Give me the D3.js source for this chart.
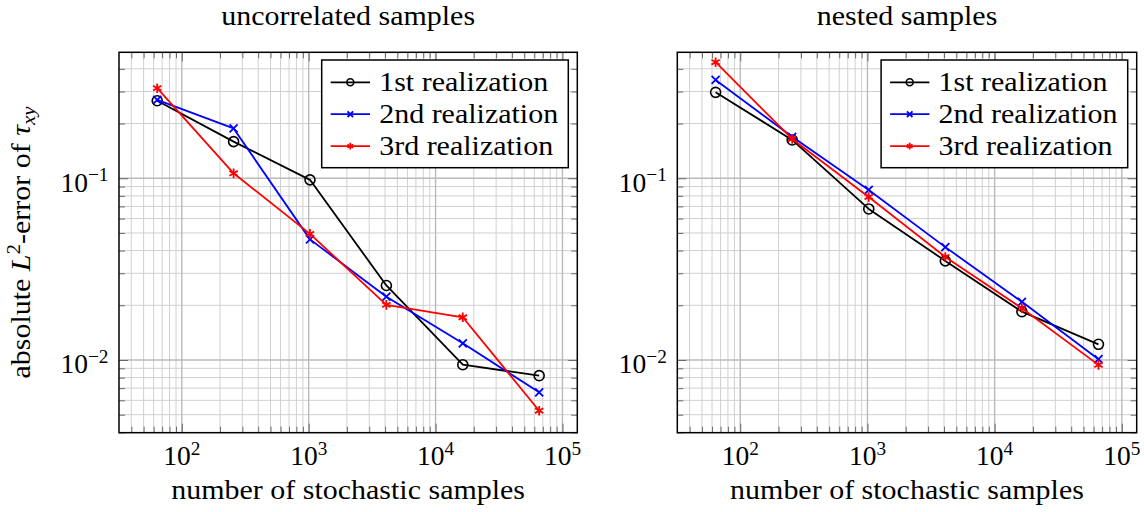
<!DOCTYPE html>
<html>
<head>
<meta charset="utf-8">
<script src="https://cdn.jsdelivr.net/npm/d3@7"></script>
<style>
  html, body { margin: 0; padding: 0; background: #fff; }
  svg { display: block; }
  svg text { font-family: "Liberation Serif", "DejaVu Serif", serif; }
</style>
</head>
<body>
<svg id="chart" width="1144" height="512"></svg>
<script>
// Number of stochastic samples N = 4^3 ... 4^8
const samples = [64, 256, 1024, 4096, 16384, 65536];

// Absolute L2-error of tau_xy, uncorrelated samples
const uncorrelatedFirst  = [0.267, 0.159, 0.098, 0.0257, 0.00942, 0.0082];
const uncorrelatedSecond = [0.270, 0.188, 0.0461, 0.0223, 0.01236, 0.00664];
const uncorrelatedThird  = [0.313, 0.1065, 0.0494, 0.0201, 0.01718, 0.00526];

// Absolute L2-error of tau_xy, nested samples
const nestedFirst  = [0.297, 0.1625, 0.0678, 0.0351, 0.01845, 0.0122];
const nestedSecond = [0.3475, 0.169, 0.0862, 0.0418, 0.0209, 0.0101];
const nestedThird  = [0.435, 0.1645, 0.0789, 0.0369, 0.01925, 0.0094];

const seriesNames = ["1st realization", "2nd realization", "3rd realization"];
const panelTitles = ["uncorrelated samples", "nested samples"];
const xTickExponents = [2, 3, 4, 5];
const yTickExponents = [-1, -2];
const xLabelText = "number of stochastic samples";

// ---------------------------------------------------------------------------
const svg = d3.select("#chart");
const plotTop = 52.3, plotBottom = 432.7;
const FONT = 27.5, SUP = 19.25, WIDEN = 1.09;
const SERIF = "'Liberation Serif', 'DejaVu Serif', serif";

const seriesStyle = [
  { color: "#000000", mark: "circle" },
  { color: "#0000ff", mark: "cross" },
  { color: "#ff0000", mark: "asterisk" }
];

const panels = [
  { left: 119, right: 577.3, title: panelTitles[0], yLabel: true,
    series: [uncorrelatedFirst, uncorrelatedSecond, uncorrelatedThird] },
  { left: 677.3, right: 1136.7, title: panelTitles[1], yLabel: false,
    series: [nestedFirst, nestedSecond, nestedThird] }
];

// widen the Times-like glyphs towards Computer Modern proportions
function widen(sel, k = WIDEN) {
  sel.each(function () {
    const w = this.getComputedTextLength();
    d3.select(this).attr("textLength", w * k).attr("lengthAdjust", "spacingAndGlyphs");
  });
  return sel;
}

function label(parent) {
  return parent.append("text").attr("font-family", SERIF).attr("font-size", FONT).attr("fill", "#000");
}

function drawMark(g, kind, cx, cy, color, s) {
  if (kind === "circle") {
    g.append("circle").attr("cx", cx).attr("cy", cy).attr("r", s * 1.25)
      .attr("fill", "none").attr("stroke", color).attr("stroke-width", 1.6);
  } else if (kind === "cross") {
    g.append("path")
      .attr("d", `M${cx - s},${cy - s}L${cx + s},${cy + s}M${cx - s},${cy + s}L${cx + s},${cy - s}`)
      .attr("stroke", color).attr("stroke-width", 1.8).attr("fill", "none");
  } else {
    const r = s * 1.2;
    let d = "";
    [90, 30, 150].forEach(a => {
      const dx = r * Math.cos(a * Math.PI / 180), dy = r * Math.sin(a * Math.PI / 180);
      d += `M${cx - dx},${cy - dy}L${cx + dx},${cy + dy}`;
    });
    g.append("path").attr("d", d).attr("stroke", color).attr("stroke-width", 1.8).attr("fill", "none");
  }
}

const isMajor = v => Math.abs(Math.log10(v) - Math.round(Math.log10(v))) < 1e-9;

panels.forEach(p => {
  const x = d3.scaleLog().domain([10 ** 1.505, 10 ** 5.117]).range([p.left, p.right]);
  const y = d3.scaleLog().domain([10 ** -2.40, 10 ** -0.307]).range([plotBottom, plotTop]);
  const g = svg.append("g");

  const xt = x.ticks(), yt = y.ticks();
  const xMinor = xt.filter(v => !isMajor(v)), xMajor = xt.filter(isMajor);
  const yMinor = yt.filter(v => !isMajor(v)), yMajor = yt.filter(isMajor);

  // grid
  const grid = g.append("g");
  grid.selectAll("line.xm").data(xMinor).join("line")
    .attr("x1", d => x(d)).attr("x2", d => x(d)).attr("y1", plotTop).attr("y2", plotBottom)
    .attr("stroke", "#d0d0d0").attr("stroke-width", 1);
  grid.selectAll("line.ym").data(yMinor).join("line")
    .attr("y1", d => y(d)).attr("y2", d => y(d)).attr("x1", p.left).attr("x2", p.right)
    .attr("stroke", "#d0d0d0").attr("stroke-width", 1);
  grid.selectAll("line.xM").data(xMajor).join("line")
    .attr("x1", d => x(d)).attr("x2", d => x(d)).attr("y1", plotTop).attr("y2", plotBottom)
    .attr("stroke", "#bababa").attr("stroke-width", 1.4);
  grid.selectAll("line.yM").data(yMajor).join("line")
    .attr("y1", d => y(d)).attr("y2", d => y(d)).attr("x1", p.left).attr("x2", p.right)
    .attr("stroke", "#bababa").attr("stroke-width", 1.4);

  // inward tick marks on all four sides
  const tickAxes = [
    [d3.axisBottom(x), `translate(0,${plotBottom})`, xMinor, -6],
    [d3.axisBottom(x), `translate(0,${plotBottom})`, xMajor, -9],
    [d3.axisTop(x), `translate(0,${plotTop})`, xMinor, -6],
    [d3.axisTop(x), `translate(0,${plotTop})`, xMajor, -9],
    [d3.axisLeft(y), `translate(${p.left},0)`, yMinor, -6],
    [d3.axisLeft(y), `translate(${p.left},0)`, yMajor, -9],
    [d3.axisRight(y), `translate(${p.right},0)`, yMinor, -6],
    [d3.axisRight(y), `translate(${p.right},0)`, yMajor, -9]
  ];
  tickAxes.forEach(([ax, tr, vals, len]) => {
    const a = g.append("g").attr("transform", tr)
      .call(ax.tickValues(vals).tickSize(len).tickFormat(""));
    a.select(".domain").remove();
    a.selectAll("line").attr("stroke", "#6a6a6a").attr("stroke-width", 1);
  });

  // series lines and marks
  p.series.forEach((vals, si) => {
    const st = seriesStyle[si];
    const pts = samples.map((n, i) => [x(n), y(vals[i])]);
    g.append("path").attr("d", d3.line()(pts))
      .attr("fill", "none").attr("stroke", st.color).attr("stroke-width", 1.8)
      .attr("stroke-linejoin", "round");
    const mg = g.append("g");
    pts.forEach(([cx, cy]) => drawMark(mg, st.mark, cx, cy, st.color, 4));
  });

  // frame
  g.append("rect").attr("x", p.left).attr("y", plotTop)
    .attr("width", p.right - p.left).attr("height", plotBottom - plotTop)
    .attr("fill", "none").attr("stroke", "#000").attr("stroke-width", 1.5);

  // x tick labels 10^k
  xTickExponents.forEach(e => {
    const t = label(g).attr("x", x(10 ** e)).attr("y", plotBottom + 32.5).attr("text-anchor", "middle");
    t.append("tspan").text("10");
    t.append("tspan").attr("dy", -10.5).attr("font-size", SUP).text(String(e));
  });

  // y tick labels 10^-k
  yTickExponents.forEach(e => {
    const t = label(g).attr("x", p.left - 10.5).attr("y", y(10 ** e) + 13.4).attr("text-anchor", "end");
    t.append("tspan").text("10");
    t.append("tspan").attr("dy", -10.5).attr("font-size", SUP).text("\u2212" + Math.abs(e));
  });

  const cx = (p.left + p.right) / 2;
  // title
  widen(label(g).attr("x", cx).attr("y", 25).attr("text-anchor", "middle").text(p.title));
  // x label
  widen(label(g).attr("x", cx).attr("y", 499).attr("text-anchor", "middle").text(xLabelText));

  // y label
  if (p.yLabel) {
    const t = label(g)
      .attr("transform", `translate(30,${(plotTop + plotBottom) / 2}) rotate(-90)`)
      .attr("text-anchor", "middle");
    t.append("tspan").text("absolute ");
    t.append("tspan").attr("font-style", "italic").text("L");
    t.append("tspan").attr("dy", -10.5).attr("font-size", SUP).text("2");
    t.append("tspan").attr("dy", 10.5).text("-error of ");
    t.append("tspan").attr("font-style", "italic").text("\u03c4");
    t.append("tspan").attr("dy", 5).attr("font-style", "italic").attr("font-size", SUP).text("xy");
    widen(t);
  }

  // legend
  const lw = 246.6, lh = 107.7;
  const lx = p.right - 9 - lw, ly = 60;
  const lg = g.append("g");
  lg.append("rect").attr("x", lx).attr("y", ly).attr("width", lw).attr("height", lh)
    .attr("fill", "#fff").attr("stroke", "#000").attr("stroke-width", 1.5);
  seriesNames.forEach((name, i) => {
    const st = seriesStyle[i];
    const ry = ly + 22.3 + i * 31.9;
    lg.append("line").attr("x1", lx + 9).attr("x2", lx + 48.3).attr("y1", ry).attr("y2", ry)
      .attr("stroke", st.color).attr("stroke-width", 1.8);
    drawMark(lg, st.mark, lx + 28.6, ry, st.color, 2.8);
    widen(label(lg).attr("x", lx + 57.5).attr("y", ry + 8.5).text(name));
  });
});
</script>
</body>
</html>
